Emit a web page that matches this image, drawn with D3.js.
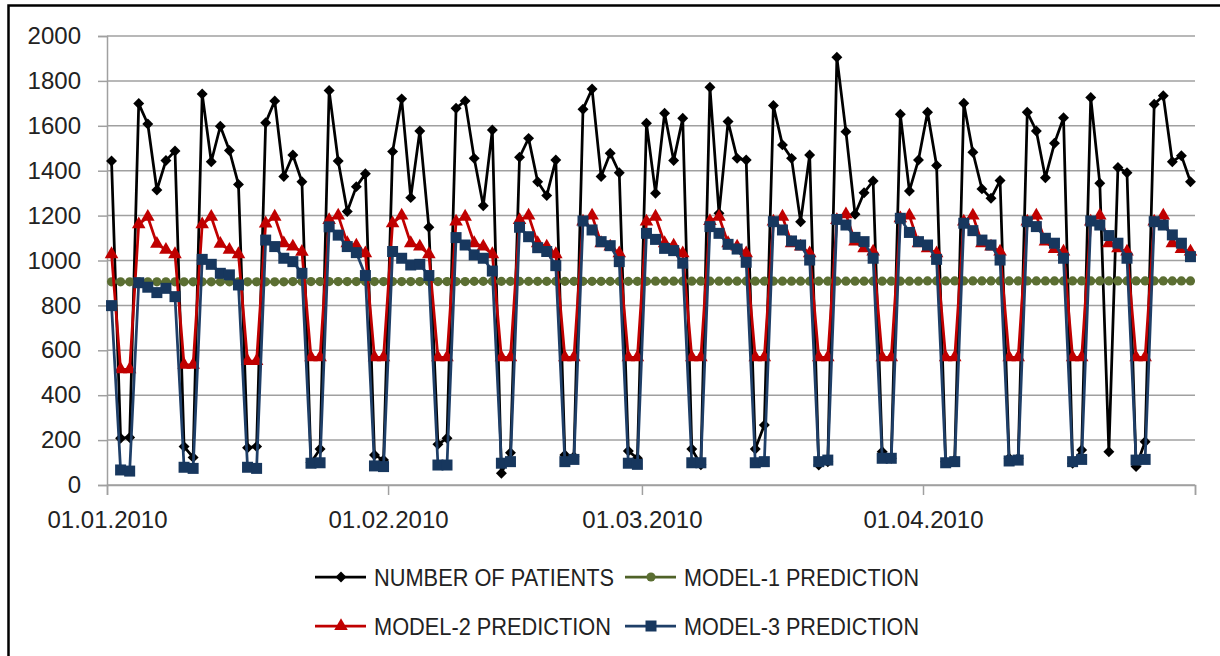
<!DOCTYPE html>
<html>
<head>
<meta charset="utf-8">
<script src="https://cdn.jsdelivr.net/npm/d3@7"></script>
<style>
  body { margin: 0; background: #fff; }
  svg { display: block; }
</style>
</head>
<body>
<svg width="1220" height="656"></svg>
<script>
// Days 01.01.2010 .. 30.04.2010
const days = d3.utcDay.range(new Date(Date.UTC(2010, 0, 1)), new Date(Date.UTC(2010, 4, 1)));

const patients = [
  1443, 208, 212, 1699, 1608, 1314, 1445, 1488, 171, 123,
  1742, 1440, 1598, 1490, 1339, 166, 171, 1614, 1711, 1374,
  1470, 1351, 100, 160, 1757, 1443, 1218, 1329, 1386, 134,
  111, 1485, 1720, 1280, 1577, 1148, 181, 208, 1678, 1711,
  1455, 1244, 1581, 52, 144, 1460, 1544, 1351, 1289, 1448,
  134, 126, 1674, 1764, 1374, 1478, 1391, 151, 119, 1611,
  1300, 1656, 1445, 1634, 160, 90, 1772, 1210, 1619, 1455,
  1448, 160, 267, 1690, 1515, 1455, 1173, 1470, 89, 104,
  1905, 1574, 1206, 1302, 1354, 148, 119, 1651, 1310, 1448,
  1660, 1423, 104, 111, 1700, 1482, 1319, 1277, 1356, 119,
  119, 1660, 1577, 1369, 1522, 1636, 97, 156, 1726, 1344,
  148, 1414, 1391, 82, 193, 1696, 1734, 1440, 1467, 1351
];

const model1 = [
  905, 905, 905, 905, 905, 905, 905, 905, 905, 905,
  905, 905, 905, 905, 905, 905, 905, 905, 905, 905,
  906, 906, 906, 906, 906, 906, 906, 906, 906, 906,
  906, 906, 906, 906, 906, 906, 906, 906, 906, 906,
  907, 907, 907, 907, 907, 907, 907, 907, 907, 907,
  907, 907, 907, 907, 907, 907, 907, 907, 907, 907,
  908, 908, 908, 908, 908, 908, 908, 908, 908, 908,
  908, 908, 908, 908, 908, 908, 908, 908, 908, 908,
  908, 908, 908, 908, 908, 908, 908, 908, 908, 908,
  909, 909, 909, 909, 909, 909, 909, 909, 909, 909,
  909, 909, 909, 909, 909, 909, 909, 909, 909, 909,
  909, 909, 909, 909, 909, 909, 909, 909, 909, 909
];

const model2 = [
  1028, 515, 515, 1161, 1194, 1074, 1047, 1028, 535, 535,
  1161, 1194, 1074, 1047, 1028, 552, 552, 1165, 1195, 1076,
  1062, 1039, 569, 569, 1180, 1200, 1077, 1066, 1032, 569,
  569, 1166, 1200, 1077, 1062, 1028, 569, 569, 1173, 1195,
  1077, 1062, 1028, 569, 569, 1180, 1200, 1077, 1062, 1028,
  569, 569, 1173, 1200, 1077, 1062, 1032, 569, 569, 1173,
  1195, 1077, 1066, 1032, 569, 569, 1176, 1195, 1077, 1062,
  1032, 569, 569, 1173, 1195, 1077, 1062, 1032, 569, 569,
  1180, 1206, 1084, 1054, 1040, 569, 569, 1188, 1200, 1077,
  1054, 1032, 569, 569, 1173, 1200, 1077, 1062, 1040, 569,
  569, 1173, 1200, 1084, 1051, 1040, 569, 569, 1173, 1200,
  1077, 1054, 1040, 569, 569, 1173, 1200, 1077, 1051, 1040
];

const model3 = [
  799, 67, 62, 901, 881, 857, 876, 839, 79, 74,
  1005, 983, 943, 936, 891, 79, 74, 1091, 1062, 1010,
  995, 943, 97, 99, 1150, 1113, 1062, 1035, 933, 85,
  82, 1040, 1010, 980, 983, 933, 89, 89, 1102, 1069,
  1025, 1010, 953, 97, 104, 1148, 1106, 1057, 1040, 977,
  104, 114, 1176, 1136, 1084, 1066, 995, 97, 92, 1121,
  1094, 1054, 1044, 988, 99, 99, 1151, 1121, 1072, 1051,
  992, 99, 104, 1173, 1136, 1087, 1069, 1002, 104, 111,
  1183, 1158, 1103, 1084, 1010, 119, 119, 1188, 1125, 1084,
  1069, 1005, 99, 104, 1166, 1133, 1091, 1069, 1002, 107,
  111, 1173, 1151, 1099, 1077, 1010, 104, 114, 1176, 1158,
  1111, 1077, 1010, 111, 114, 1173, 1158, 1114, 1077, 1017
];

const yTicks = [0, 200, 400, 600, 800, 1000, 1200, 1400, 1600, 1800, 2000];
const monthTicks = [0, 1, 2, 3, 4].map(m => new Date(Date.UTC(2010, m, 1)));
const tickLabels = ["01.01.2010", "01.02.2010", "01.03.2010", "01.04.2010", ""];
const seriesNames = ["NUMBER OF PATIENTS", "MODEL-1 PREDICTION", "MODEL-2 PREDICTION", "MODEL-3 PREDICTION"];

const svg = d3.select("svg");

// outer chart frame (right and bottom edges fall outside the picture)
svg.append("rect")
  .attr("x", 8.5).attr("y", 5.5)
  .attr("width", 1400).attr("height", 800)
  .attr("fill", "#fff")
  .attr("stroke", "#000")
  .attr("stroke-width", 2.5);

const x = d3.scaleUtc()
  .domain([monthTicks[0], monthTicks[4]])
  .range([107, 1195]);

const y = d3.scaleLinear()
  .domain([0, 2000])
  .range([485, 36]);

// points sit in the middle of their day
const px = i => x(d3.utcHour.offset(days[i], 12));

// grid lines
svg.append("g")
  .selectAll("line")
  .data(yTicks)
  .join("line")
  .attr("x1", x.range()[0]).attr("x2", x.range()[1])
  .attr("y1", d => y(d)).attr("y2", d => y(d))
  .attr("stroke", "#a0a0a0")
  .attr("stroke-width", 1.5);

// Y axis
const yAxis = svg.append("g")
  .attr("transform", `translate(${x.range()[0]},0)`)
  .call(d3.axisLeft(y).tickValues(yTicks).tickSize(9).tickPadding(17).tickFormat(d => String(d)));
yAxis.select(".domain").attr("stroke", "#a0a0a0").attr("stroke-width", 1.5);
yAxis.selectAll(".tick line").attr("stroke", "#a0a0a0").attr("stroke-width", 1.5);
yAxis.selectAll("text")
  .attr("font-family", "'Liberation Sans', Arial, sans-serif")
  .attr("font-size", 24)
  .attr("fill", "#222");

// X axis
const xAxis = svg.append("g")
  .attr("transform", `translate(0,${y(0)})`)
  .call(d3.axisBottom(x).tickValues(monthTicks).tickSize(10).tickPadding(16)
    .tickFormat((d, i) => tickLabels[i]));
xAxis.select(".domain").attr("stroke", "#a0a0a0").attr("stroke-width", 1.5);
xAxis.selectAll(".tick line").attr("stroke", "#a0a0a0").attr("stroke-width", 1.5);
xAxis.selectAll("text")
  .attr("font-family", "'Liberation Sans', Arial, sans-serif")
  .attr("font-size", 24)
  .attr("fill", "#222");

// series styles
const series = [
  { values: patients, color: "#000", fill: "#000", symbol: d3.symbolSquare, size: 60, rotate: 45 },
  { values: model1, color: "#4f6228", fill: "#5b6e32", symbol: d3.symbolCircle, size: 66, rotate: 0 },
  { values: model2, color: "#c00000", fill: "#c00000", symbol: d3.symbolTriangle, size: 80, rotate: 0 },
  { values: model3, color: "#1f3f68", fill: "#17375e", symbol: d3.symbolSquare, size: 121, rotate: 0 }
];

const line = d3.line()
  .x((d, i) => px(i))
  .y(d => y(d));

series.forEach(s => {
  svg.append("path")
    .datum(s.values)
    .attr("fill", "none")
    .attr("stroke", s.color)
    .attr("stroke-width", 2.75)
    .attr("stroke-linejoin", "round")
    .attr("d", line);

  svg.append("g")
    .selectAll("path")
    .data(s.values)
    .join("path")
    .attr("d", d3.symbol(s.symbol, s.size))
    .attr("transform", (d, i) => `translate(${px(i)},${y(d)}) rotate(${s.rotate})`)
    .attr("fill", s.fill);
});

// legend
const legendPos = [
  { lx: 315, ly: 577, w: 240 },
  { lx: 625, ly: 577, w: 235 },
  { lx: 315, ly: 626, w: 237 },
  { lx: 625, ly: 626, w: 235 }
];

const legend = svg.append("g");
series.forEach((s, i) => {
  const p = legendPos[i];
  legend.append("line")
    .attr("x1", p.lx).attr("x2", p.lx + 51)
    .attr("y1", p.ly).attr("y2", p.ly)
    .attr("stroke", s.color)
    .attr("stroke-width", 2.75);
  legend.append("path")
    .attr("d", d3.symbol(s.symbol, s.size))
    .attr("transform", `translate(${p.lx + 26},${p.ly}) rotate(${s.rotate})`)
    .attr("fill", s.fill);
  legend.append("text")
    .attr("x", p.lx + 59)
    .attr("y", p.ly + 9)
    .attr("font-family", "'Liberation Sans', Arial, sans-serif")
    .attr("font-size", 24)
    .attr("textLength", p.w)
    .attr("lengthAdjust", "spacingAndGlyphs")
    .attr("fill", "#222")
    .text(seriesNames[i]);
});
</script>
</body>
</html>
